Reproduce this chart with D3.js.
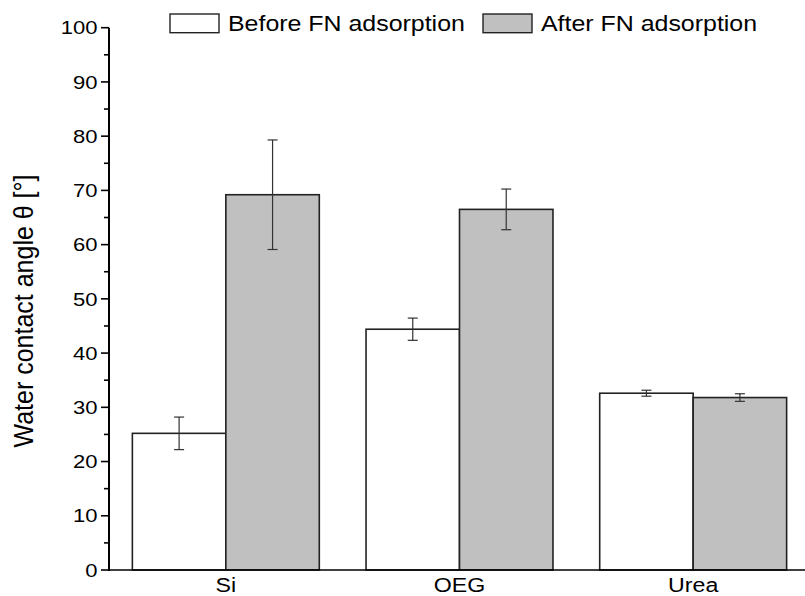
<!DOCTYPE html>
<html><head><meta charset="utf-8">
<script src="https://cdn.jsdelivr.net/npm/d3@7"></script>
<style>body{margin:0;background:#fff}svg{display:block}text{font-family:"Liberation Sans",Arial,sans-serif;fill:#000}</style>
</head><body><div id="chart"></div>
<script>
const categories = ["Si", "OEG", "Urea"];
const seriesNames = ["Before FN adsorption", "After FN adsorption"];
const beforeValues = [25.2, 44.4, 32.6];
const beforeErrors = [3.0, 2.05, 0.55];
const afterValues = [69.2, 66.5, 31.8];
const afterErrors = [10.1, 3.75, 0.7];
const yTicks = [0, 10, 20, 30, 40, 50, 60, 70, 80, 90, 100];
const yMinorTicks = [5, 15, 25, 35, 45, 55, 65, 75, 85, 95];
const yLabel = "Water contact angle θ [°]";

const W = 805, H = 596, SX = 1.16;
const svg = d3.select("#chart").append("svg").attr("width", W).attr("height", H);

const x0 = d3.scaleBand().domain(categories).range([109, 810]).paddingInner(0.2).paddingOuter(0.1);
const x1 = d3.scaleBand().domain([0, 1]).range([0, x0.bandwidth()]);
const y = d3.scaleLinear().domain([0, 100]).range([570, 27.7]);

const fills = ["#ffffff", "#c0c0c0"];
const series = [
  {vals: beforeValues, errs: beforeErrors},
  {vals: afterValues, errs: afterErrors}
];

// bars
series.forEach((s, si) => {
  const g = svg.append("g");
  g.selectAll("rect").data(categories).join("rect")
    .attr("x", c => x0(c) + x1(si))
    .attr("y", (c, i) => y(s.vals[i]))
    .attr("width", x1.bandwidth())
    .attr("height", (c, i) => y(0) - y(s.vals[i]))
    .attr("fill", fills[si]).attr("stroke", "#222").attr("stroke-width", 1.6);
});
// error bars
series.forEach((s, si) => {
  const g = svg.append("g").attr("stroke", "#333").attr("stroke-width", 1.2);
  categories.forEach((c, i) => {
    const cx = x0(c) + x1(si) + x1.bandwidth() / 2;
    const top = y(s.vals[i] + s.errs[i]), bot = y(s.vals[i] - s.errs[i]);
    g.append("line").attr("x1", cx).attr("x2", cx).attr("y1", top).attr("y2", bot);
    g.append("line").attr("x1", cx - 5).attr("x2", cx + 5).attr("y1", top).attr("y2", top);
    g.append("line").attr("x1", cx - 5).attr("x2", cx + 5).attr("y1", bot).attr("y2", bot);
  });
});

// y axis
const ya = svg.append("g");
ya.append("line").attr("x1", 109).attr("x2", 109).attr("y1", y(100)).attr("y2", y(0) + 1)
  .attr("stroke", "#000").attr("stroke-width", 2);
ya.selectAll("line.maj").data(yTicks).join("line").attr("class", "maj")
  .attr("x1", 101).attr("x2", 109).attr("y1", d => y(d)).attr("y2", d => y(d))
  .attr("stroke", "#000").attr("stroke-width", 1.6);
ya.selectAll("line.min").data(yMinorTicks).join("line").attr("class", "min")
  .attr("x1", 104).attr("x2", 109).attr("y1", d => y(d)).attr("y2", d => y(d))
  .attr("stroke", "#000").attr("stroke-width", 1.6);
ya.selectAll("text").data(yTicks).join("text")
  .attr("transform", d => `translate(97.5,${y(d)}) scale(${SX},1)`)
  .attr("text-anchor", "end").attr("dy", "0.35em").attr("font-size", 19)
  .text(d => d);

// x axis
svg.append("line").attr("x1", 108).attr("x2", 810).attr("y1", 570).attr("y2", 570)
  .attr("stroke", "#000").attr("stroke-width", 1.6);
svg.append("g").selectAll("text").data(categories).join("text")
  .attr("transform", c => `translate(${x0(c) + x0.bandwidth() / 2},592) scale(${SX},1)`)
  .attr("text-anchor", "middle").attr("font-size", 20).text(c => c);

// y label
svg.append("text")
  .attr("transform", `translate(32.5,311) scale(1.1,1) rotate(-90)`)
  .attr("text-anchor", "middle").attr("font-size", 25).text(yLabel);

// legend
const legendX = [170, 483];
seriesNames.forEach((n, i) => {
  svg.append("rect").attr("x", legendX[i]).attr("y", 14).attr("width", 49).attr("height", 18.7)
    .attr("fill", fills[i]).attr("stroke", "#222").attr("stroke-width", 1.4);
  svg.append("text").attr("transform", `translate(${legendX[i] + 58},31) scale(${SX},1)`)
    .attr("font-size", 21.5).text(n);
});
</script></body></html>
